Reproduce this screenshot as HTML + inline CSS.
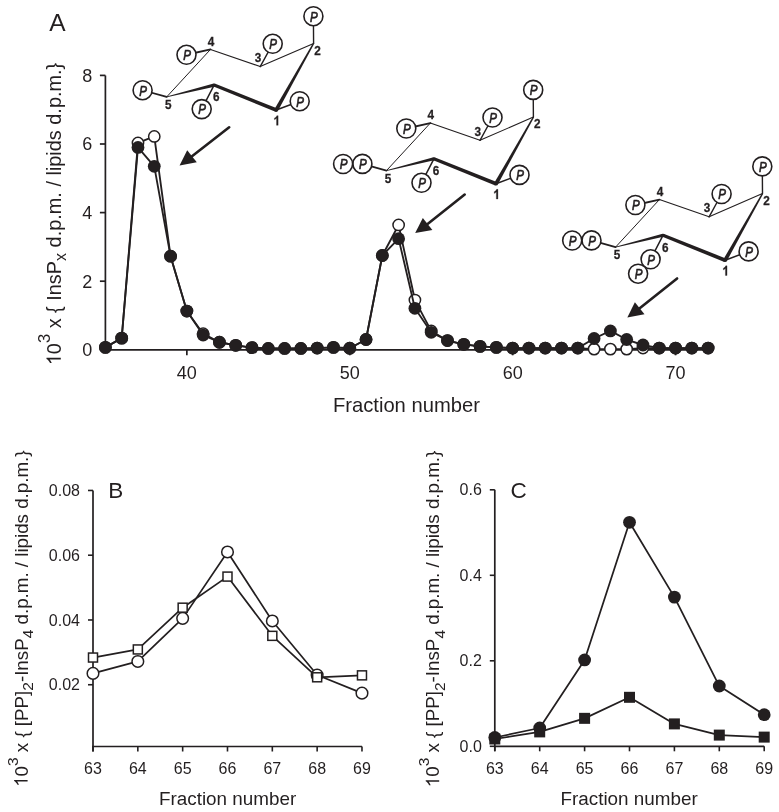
<!DOCTYPE html>
<html><head><meta charset="utf-8"><title>Figure</title>
<style>
html,body{margin:0;padding:0;background:#fff;}
svg{display:block;will-change:transform;}
text{font-family:"Liberation Sans",sans-serif;fill:#231f20;}
.tA{font-size:18px;}
.tB{font-size:16px;}
.tL{font-size:24.5px;}
.tL2{font-size:22.5px;}
.tT{font-size:20.2px;}
.tT2{font-size:18.85px;}
.tY{font-size:19.9px;}
.tY2{font-size:18.75px;}
.tP{font-size:14.5px;font-style:italic;stroke:#231f20;stroke-width:0.7px;}
.tN{font-size:13.5px;font-weight:bold;stroke:#231f20;stroke-width:0.3px;}
</style></head>
<body>
<svg width="779" height="812" viewBox="0 0 779 812">
<rect width="779" height="812" fill="#fff"/>
<g id="chartA">
<line x1="105.40" y1="75.40" x2="105.40" y2="350.65" stroke="#231f20" stroke-width="1.7"/>
<line x1="104.55" y1="349.80" x2="708.13" y2="349.80" stroke="#231f20" stroke-width="1.7"/>
<line x1="99.90" y1="349.80" x2="105.40" y2="349.80" stroke="#231f20" stroke-width="1.7"/>
<text x="92.20" y="356.20" class="tA" text-anchor="end">0</text>
<line x1="99.90" y1="281.20" x2="105.40" y2="281.20" stroke="#231f20" stroke-width="1.7"/>
<text x="92.20" y="287.60" class="tA" text-anchor="end">2</text>
<line x1="99.90" y1="212.60" x2="105.40" y2="212.60" stroke="#231f20" stroke-width="1.7"/>
<text x="92.20" y="219.00" class="tA" text-anchor="end">4</text>
<line x1="99.90" y1="144.00" x2="105.40" y2="144.00" stroke="#231f20" stroke-width="1.7"/>
<text x="92.20" y="150.40" class="tA" text-anchor="end">6</text>
<line x1="99.90" y1="75.40" x2="105.40" y2="75.40" stroke="#231f20" stroke-width="1.7"/>
<text x="92.20" y="81.80" class="tA" text-anchor="end">8</text>
<line x1="186.85" y1="349.80" x2="186.85" y2="355.30" stroke="#231f20" stroke-width="1.7"/>
<text x="186.85" y="379.00" class="tA" text-anchor="middle">40</text>
<line x1="349.75" y1="349.80" x2="349.75" y2="355.30" stroke="#231f20" stroke-width="1.7"/>
<text x="349.75" y="379.00" class="tA" text-anchor="middle">50</text>
<line x1="512.65" y1="349.80" x2="512.65" y2="355.30" stroke="#231f20" stroke-width="1.7"/>
<text x="512.65" y="379.00" class="tA" text-anchor="middle">60</text>
<line x1="675.55" y1="349.80" x2="675.55" y2="355.30" stroke="#231f20" stroke-width="1.7"/>
<text x="675.55" y="379.00" class="tA" text-anchor="middle">70</text>
<polyline points="105.40,347.40 121.69,338.14 137.98,142.97 154.27,136.45 170.56,256.16 186.85,311.04 203.14,333.68 219.43,342.25 235.72,345.34 252.01,347.60 268.30,348.43 284.59,348.43 300.88,348.43 317.17,348.09 333.46,347.40 349.75,348.26 366.04,339.51 382.33,255.48 398.62,224.95 414.91,300.06 431.20,330.94 447.49,340.54 463.78,344.31 480.07,346.37 496.36,347.40 512.65,348.09 528.94,348.09 545.23,348.09 561.52,348.09 577.81,348.09 594.10,349.11 610.39,349.11 626.68,349.11 642.97,348.09 659.26,348.09 675.55,348.09 691.84,348.09 708.13,348.09" fill="none" stroke="#231f20" stroke-width="1.85" stroke-linejoin="round"/>
<circle cx="105.40" cy="347.40" r="5.65" fill="#fff" stroke="#231f20" stroke-width="1.5"/>
<circle cx="121.69" cy="338.14" r="5.65" fill="#fff" stroke="#231f20" stroke-width="1.5"/>
<circle cx="137.98" cy="142.97" r="5.65" fill="#fff" stroke="#231f20" stroke-width="1.5"/>
<circle cx="154.27" cy="136.45" r="5.65" fill="#fff" stroke="#231f20" stroke-width="1.5"/>
<circle cx="170.56" cy="256.16" r="5.65" fill="#fff" stroke="#231f20" stroke-width="1.5"/>
<circle cx="186.85" cy="311.04" r="5.65" fill="#fff" stroke="#231f20" stroke-width="1.5"/>
<circle cx="203.14" cy="333.68" r="5.65" fill="#fff" stroke="#231f20" stroke-width="1.5"/>
<circle cx="219.43" cy="342.25" r="5.65" fill="#fff" stroke="#231f20" stroke-width="1.5"/>
<circle cx="235.72" cy="345.34" r="5.65" fill="#fff" stroke="#231f20" stroke-width="1.5"/>
<circle cx="252.01" cy="347.60" r="5.65" fill="#fff" stroke="#231f20" stroke-width="1.5"/>
<circle cx="268.30" cy="348.43" r="5.65" fill="#fff" stroke="#231f20" stroke-width="1.5"/>
<circle cx="284.59" cy="348.43" r="5.65" fill="#fff" stroke="#231f20" stroke-width="1.5"/>
<circle cx="300.88" cy="348.43" r="5.65" fill="#fff" stroke="#231f20" stroke-width="1.5"/>
<circle cx="317.17" cy="348.09" r="5.65" fill="#fff" stroke="#231f20" stroke-width="1.5"/>
<circle cx="333.46" cy="347.40" r="5.65" fill="#fff" stroke="#231f20" stroke-width="1.5"/>
<circle cx="349.75" cy="348.26" r="5.65" fill="#fff" stroke="#231f20" stroke-width="1.5"/>
<circle cx="366.04" cy="339.51" r="5.65" fill="#fff" stroke="#231f20" stroke-width="1.5"/>
<circle cx="382.33" cy="255.48" r="5.65" fill="#fff" stroke="#231f20" stroke-width="1.5"/>
<circle cx="398.62" cy="224.95" r="5.65" fill="#fff" stroke="#231f20" stroke-width="1.5"/>
<circle cx="414.91" cy="300.06" r="5.65" fill="#fff" stroke="#231f20" stroke-width="1.5"/>
<circle cx="431.20" cy="330.94" r="5.65" fill="#fff" stroke="#231f20" stroke-width="1.5"/>
<circle cx="447.49" cy="340.54" r="5.65" fill="#fff" stroke="#231f20" stroke-width="1.5"/>
<circle cx="463.78" cy="344.31" r="5.65" fill="#fff" stroke="#231f20" stroke-width="1.5"/>
<circle cx="480.07" cy="346.37" r="5.65" fill="#fff" stroke="#231f20" stroke-width="1.5"/>
<circle cx="496.36" cy="347.40" r="5.65" fill="#fff" stroke="#231f20" stroke-width="1.5"/>
<circle cx="512.65" cy="348.09" r="5.65" fill="#fff" stroke="#231f20" stroke-width="1.5"/>
<circle cx="528.94" cy="348.09" r="5.65" fill="#fff" stroke="#231f20" stroke-width="1.5"/>
<circle cx="545.23" cy="348.09" r="5.65" fill="#fff" stroke="#231f20" stroke-width="1.5"/>
<circle cx="561.52" cy="348.09" r="5.65" fill="#fff" stroke="#231f20" stroke-width="1.5"/>
<circle cx="577.81" cy="348.09" r="5.65" fill="#fff" stroke="#231f20" stroke-width="1.5"/>
<circle cx="594.10" cy="349.11" r="5.65" fill="#fff" stroke="#231f20" stroke-width="1.5"/>
<circle cx="610.39" cy="349.11" r="5.65" fill="#fff" stroke="#231f20" stroke-width="1.5"/>
<circle cx="626.68" cy="349.11" r="5.65" fill="#fff" stroke="#231f20" stroke-width="1.5"/>
<circle cx="642.97" cy="348.09" r="5.65" fill="#fff" stroke="#231f20" stroke-width="1.5"/>
<circle cx="659.26" cy="348.09" r="5.65" fill="#fff" stroke="#231f20" stroke-width="1.5"/>
<circle cx="675.55" cy="348.09" r="5.65" fill="#fff" stroke="#231f20" stroke-width="1.5"/>
<circle cx="691.84" cy="348.09" r="5.65" fill="#fff" stroke="#231f20" stroke-width="1.5"/>
<circle cx="708.13" cy="348.09" r="5.65" fill="#fff" stroke="#231f20" stroke-width="1.5"/>
<polyline points="105.40,347.40 121.69,338.14 137.98,147.43 154.27,166.30 170.56,256.16 186.85,311.04 203.14,335.05 219.43,342.25 235.72,345.34 252.01,347.60 268.30,348.43 284.59,348.43 300.88,348.43 317.17,348.09 333.46,347.40 349.75,348.26 366.04,339.51 382.33,255.48 398.62,238.67 414.91,308.30 431.20,332.31 447.49,340.54 463.78,344.31 480.07,346.37 496.36,347.40 512.65,348.09 528.94,348.09 545.23,348.09 561.52,348.09 577.81,348.09 594.10,338.48 610.39,330.94 626.68,339.51 642.97,345.00 659.26,348.09 675.55,348.09 691.84,348.09 708.13,348.09" fill="none" stroke="#231f20" stroke-width="1.85" stroke-linejoin="round"/>
<circle cx="105.40" cy="347.40" r="6.40" fill="#231f20"/>
<circle cx="121.69" cy="338.14" r="6.40" fill="#231f20"/>
<circle cx="137.98" cy="147.43" r="6.40" fill="#231f20"/>
<circle cx="154.27" cy="166.30" r="6.40" fill="#231f20"/>
<circle cx="170.56" cy="256.16" r="6.40" fill="#231f20"/>
<circle cx="186.85" cy="311.04" r="6.40" fill="#231f20"/>
<circle cx="203.14" cy="335.05" r="6.40" fill="#231f20"/>
<circle cx="219.43" cy="342.25" r="6.40" fill="#231f20"/>
<circle cx="235.72" cy="345.34" r="6.40" fill="#231f20"/>
<circle cx="252.01" cy="347.60" r="6.40" fill="#231f20"/>
<circle cx="268.30" cy="348.43" r="6.40" fill="#231f20"/>
<circle cx="284.59" cy="348.43" r="6.40" fill="#231f20"/>
<circle cx="300.88" cy="348.43" r="6.40" fill="#231f20"/>
<circle cx="317.17" cy="348.09" r="6.40" fill="#231f20"/>
<circle cx="333.46" cy="347.40" r="6.40" fill="#231f20"/>
<circle cx="349.75" cy="348.26" r="6.40" fill="#231f20"/>
<circle cx="366.04" cy="339.51" r="6.40" fill="#231f20"/>
<circle cx="382.33" cy="255.48" r="6.40" fill="#231f20"/>
<circle cx="398.62" cy="238.67" r="6.40" fill="#231f20"/>
<circle cx="414.91" cy="308.30" r="6.40" fill="#231f20"/>
<circle cx="431.20" cy="332.31" r="6.40" fill="#231f20"/>
<circle cx="447.49" cy="340.54" r="6.40" fill="#231f20"/>
<circle cx="463.78" cy="344.31" r="6.40" fill="#231f20"/>
<circle cx="480.07" cy="346.37" r="6.40" fill="#231f20"/>
<circle cx="496.36" cy="347.40" r="6.40" fill="#231f20"/>
<circle cx="512.65" cy="348.09" r="6.40" fill="#231f20"/>
<circle cx="528.94" cy="348.09" r="6.40" fill="#231f20"/>
<circle cx="545.23" cy="348.09" r="6.40" fill="#231f20"/>
<circle cx="561.52" cy="348.09" r="6.40" fill="#231f20"/>
<circle cx="577.81" cy="348.09" r="6.40" fill="#231f20"/>
<circle cx="594.10" cy="338.48" r="6.40" fill="#231f20"/>
<circle cx="610.39" cy="330.94" r="6.40" fill="#231f20"/>
<circle cx="626.68" cy="339.51" r="6.40" fill="#231f20"/>
<circle cx="642.97" cy="345.00" r="6.40" fill="#231f20"/>
<circle cx="659.26" cy="348.09" r="6.40" fill="#231f20"/>
<circle cx="675.55" cy="348.09" r="6.40" fill="#231f20"/>
<circle cx="691.84" cy="348.09" r="6.40" fill="#231f20"/>
<circle cx="708.13" cy="348.09" r="6.40" fill="#231f20"/>
</g>
<g transform="translate(0,0)">
<line x1="166.70" y1="96.90" x2="210.50" y2="49.40" stroke="#231f20" stroke-width="1.0" stroke-linecap="round"/>
<line x1="210.50" y1="49.40" x2="260.20" y2="66.60" stroke="#231f20" stroke-width="1.1" stroke-linecap="round"/>
<line x1="260.20" y1="66.60" x2="313.60" y2="43.40" stroke="#231f20" stroke-width="1.1" stroke-linecap="round"/>
<polygon points="166.80,97.29 214.49,86.65 213.71,83.55 166.60,96.51" fill="#231f20"/>
<polygon points="213.50,86.59 275.49,111.76 276.91,108.24 214.70,83.61" fill="#231f20"/>
<polygon points="277.86,110.93 314.21,43.74 312.99,43.06 274.54,109.07" fill="#231f20"/>
<circle cx="214.1" cy="85.1" r="1.6" fill="#231f20"/>
<circle cx="276.2" cy="110.0" r="1.9" fill="#231f20"/>
<line x1="276.20" y1="110.00" x2="299.70" y2="101.20" stroke="#231f20" stroke-width="1.5" stroke-linecap="round"/>
<line x1="313.60" y1="43.40" x2="313.40" y2="16.20" stroke="#231f20" stroke-width="1.4" stroke-linecap="round"/>
<line x1="260.20" y1="66.60" x2="272.70" y2="43.80" stroke="#231f20" stroke-width="1.4" stroke-linecap="round"/>
<line x1="210.50" y1="49.40" x2="186.50" y2="54.80" stroke="#231f20" stroke-width="1.9" stroke-linecap="round"/>
<line x1="166.70" y1="96.90" x2="142.60" y2="90.20" stroke="#231f20" stroke-width="1.7" stroke-linecap="round"/>
<line x1="214.10" y1="85.10" x2="201.70" y2="109.10" stroke="#231f20" stroke-width="1.5" stroke-linecap="round"/>
<circle cx="299.70" cy="101.20" r="9.5" fill="#fff" stroke="#231f20" stroke-width="1.6"/><text transform="translate(300.20,106.50) scale(0.8,1)" class="tP" text-anchor="middle">P</text>
<circle cx="313.40" cy="16.20" r="9.5" fill="#fff" stroke="#231f20" stroke-width="1.6"/><text transform="translate(313.90,21.50) scale(0.8,1)" class="tP" text-anchor="middle">P</text>
<circle cx="272.70" cy="43.80" r="9.5" fill="#fff" stroke="#231f20" stroke-width="1.6"/><text transform="translate(273.20,49.10) scale(0.8,1)" class="tP" text-anchor="middle">P</text>
<circle cx="186.50" cy="54.80" r="9.5" fill="#fff" stroke="#231f20" stroke-width="1.6"/><text transform="translate(187.00,60.10) scale(0.8,1)" class="tP" text-anchor="middle">P</text>
<circle cx="142.60" cy="90.20" r="9.5" fill="#fff" stroke="#231f20" stroke-width="1.6"/><text transform="translate(143.10,95.50) scale(0.8,1)" class="tP" text-anchor="middle">P</text>
<circle cx="201.70" cy="109.10" r="9.5" fill="#fff" stroke="#231f20" stroke-width="1.6"/><text transform="translate(202.20,114.40) scale(0.8,1)" class="tP" text-anchor="middle">P</text>
<g transform="translate(273.23,125.30) scale(0.87,1)"><path d="M856 0H575V1057Q421 913 213 844V1098Q323 1134 451 1233T627 1466H856Z" transform="scale(0.00659,-0.00659)" fill="#231f20" stroke="#231f20" stroke-width="45.5"/></g>
<text transform="translate(317.50,54.50) scale(0.87,1)" class="tN" text-anchor="middle">2</text>
<text transform="translate(258.00,61.80) scale(0.87,1)" class="tN" text-anchor="middle">3</text>
<text transform="translate(211.00,45.70) scale(0.87,1)" class="tN" text-anchor="middle">4</text>
<text transform="translate(168.20,108.90) scale(0.87,1)" class="tN" text-anchor="middle">5</text>
<text transform="translate(216.30,101.30) scale(0.87,1)" class="tN" text-anchor="middle">6</text>
</g>
<g transform="translate(219.8,73.7)">
<line x1="166.70" y1="96.90" x2="210.50" y2="49.40" stroke="#231f20" stroke-width="1.0" stroke-linecap="round"/>
<line x1="210.50" y1="49.40" x2="260.20" y2="66.60" stroke="#231f20" stroke-width="1.1" stroke-linecap="round"/>
<line x1="260.20" y1="66.60" x2="313.60" y2="43.40" stroke="#231f20" stroke-width="1.1" stroke-linecap="round"/>
<polygon points="166.80,97.29 214.49,86.65 213.71,83.55 166.60,96.51" fill="#231f20"/>
<polygon points="213.50,86.59 275.49,111.76 276.91,108.24 214.70,83.61" fill="#231f20"/>
<polygon points="277.86,110.93 314.21,43.74 312.99,43.06 274.54,109.07" fill="#231f20"/>
<circle cx="214.1" cy="85.1" r="1.6" fill="#231f20"/>
<circle cx="276.2" cy="110.0" r="1.9" fill="#231f20"/>
<line x1="276.20" y1="110.00" x2="299.70" y2="101.20" stroke="#231f20" stroke-width="1.5" stroke-linecap="round"/>
<line x1="313.60" y1="43.40" x2="313.40" y2="16.20" stroke="#231f20" stroke-width="1.4" stroke-linecap="round"/>
<line x1="260.20" y1="66.60" x2="272.70" y2="43.80" stroke="#231f20" stroke-width="1.4" stroke-linecap="round"/>
<line x1="210.50" y1="49.40" x2="186.50" y2="54.80" stroke="#231f20" stroke-width="1.9" stroke-linecap="round"/>
<line x1="166.70" y1="96.90" x2="142.60" y2="90.20" stroke="#231f20" stroke-width="1.7" stroke-linecap="round"/>
<line x1="214.10" y1="85.10" x2="201.70" y2="109.10" stroke="#231f20" stroke-width="1.5" stroke-linecap="round"/>
<circle cx="299.70" cy="101.20" r="9.5" fill="#fff" stroke="#231f20" stroke-width="1.6"/><text transform="translate(300.20,106.50) scale(0.8,1)" class="tP" text-anchor="middle">P</text>
<circle cx="313.40" cy="16.20" r="9.5" fill="#fff" stroke="#231f20" stroke-width="1.6"/><text transform="translate(313.90,21.50) scale(0.8,1)" class="tP" text-anchor="middle">P</text>
<circle cx="272.70" cy="43.80" r="9.5" fill="#fff" stroke="#231f20" stroke-width="1.6"/><text transform="translate(273.20,49.10) scale(0.8,1)" class="tP" text-anchor="middle">P</text>
<circle cx="186.50" cy="54.80" r="9.5" fill="#fff" stroke="#231f20" stroke-width="1.6"/><text transform="translate(187.00,60.10) scale(0.8,1)" class="tP" text-anchor="middle">P</text>
<circle cx="142.60" cy="90.20" r="9.5" fill="#fff" stroke="#231f20" stroke-width="1.6"/><text transform="translate(143.10,95.50) scale(0.8,1)" class="tP" text-anchor="middle">P</text>
<circle cx="201.70" cy="109.10" r="9.5" fill="#fff" stroke="#231f20" stroke-width="1.6"/><text transform="translate(202.20,114.40) scale(0.8,1)" class="tP" text-anchor="middle">P</text>
<circle cx="123.30" cy="90.30" r="9.5" fill="#fff" stroke="#231f20" stroke-width="1.6"/><text transform="translate(123.80,95.60) scale(0.8,1)" class="tP" text-anchor="middle">P</text>
<g transform="translate(273.23,125.30) scale(0.87,1)"><path d="M856 0H575V1057Q421 913 213 844V1098Q323 1134 451 1233T627 1466H856Z" transform="scale(0.00659,-0.00659)" fill="#231f20" stroke="#231f20" stroke-width="45.5"/></g>
<text transform="translate(317.50,54.50) scale(0.87,1)" class="tN" text-anchor="middle">2</text>
<text transform="translate(258.00,61.80) scale(0.87,1)" class="tN" text-anchor="middle">3</text>
<text transform="translate(211.00,45.70) scale(0.87,1)" class="tN" text-anchor="middle">4</text>
<text transform="translate(168.20,108.90) scale(0.87,1)" class="tN" text-anchor="middle">5</text>
<text transform="translate(216.30,101.30) scale(0.87,1)" class="tN" text-anchor="middle">6</text>
</g>
<g transform="translate(448.9,150.2)">
<line x1="166.70" y1="96.90" x2="210.50" y2="49.40" stroke="#231f20" stroke-width="1.0" stroke-linecap="round"/>
<line x1="210.50" y1="49.40" x2="260.20" y2="66.60" stroke="#231f20" stroke-width="1.1" stroke-linecap="round"/>
<line x1="260.20" y1="66.60" x2="313.60" y2="43.40" stroke="#231f20" stroke-width="1.1" stroke-linecap="round"/>
<polygon points="166.80,97.29 214.49,86.65 213.71,83.55 166.60,96.51" fill="#231f20"/>
<polygon points="213.50,86.59 275.49,111.76 276.91,108.24 214.70,83.61" fill="#231f20"/>
<polygon points="277.86,110.93 314.21,43.74 312.99,43.06 274.54,109.07" fill="#231f20"/>
<circle cx="214.1" cy="85.1" r="1.6" fill="#231f20"/>
<circle cx="276.2" cy="110.0" r="1.9" fill="#231f20"/>
<line x1="276.20" y1="110.00" x2="299.70" y2="101.20" stroke="#231f20" stroke-width="1.5" stroke-linecap="round"/>
<line x1="313.60" y1="43.40" x2="313.40" y2="16.20" stroke="#231f20" stroke-width="1.4" stroke-linecap="round"/>
<line x1="260.20" y1="66.60" x2="272.70" y2="43.80" stroke="#231f20" stroke-width="1.4" stroke-linecap="round"/>
<line x1="210.50" y1="49.40" x2="186.50" y2="54.80" stroke="#231f20" stroke-width="1.9" stroke-linecap="round"/>
<line x1="166.70" y1="96.90" x2="142.60" y2="90.20" stroke="#231f20" stroke-width="1.7" stroke-linecap="round"/>
<line x1="214.10" y1="85.10" x2="201.70" y2="109.10" stroke="#231f20" stroke-width="1.5" stroke-linecap="round"/>
<circle cx="299.70" cy="101.20" r="9.5" fill="#fff" stroke="#231f20" stroke-width="1.6"/><text transform="translate(300.20,106.50) scale(0.8,1)" class="tP" text-anchor="middle">P</text>
<circle cx="313.40" cy="16.20" r="9.5" fill="#fff" stroke="#231f20" stroke-width="1.6"/><text transform="translate(313.90,21.50) scale(0.8,1)" class="tP" text-anchor="middle">P</text>
<circle cx="272.70" cy="43.80" r="9.5" fill="#fff" stroke="#231f20" stroke-width="1.6"/><text transform="translate(273.20,49.10) scale(0.8,1)" class="tP" text-anchor="middle">P</text>
<circle cx="186.50" cy="54.80" r="9.5" fill="#fff" stroke="#231f20" stroke-width="1.6"/><text transform="translate(187.00,60.10) scale(0.8,1)" class="tP" text-anchor="middle">P</text>
<circle cx="142.60" cy="90.20" r="9.5" fill="#fff" stroke="#231f20" stroke-width="1.6"/><text transform="translate(143.10,95.50) scale(0.8,1)" class="tP" text-anchor="middle">P</text>
<circle cx="201.70" cy="109.10" r="9.5" fill="#fff" stroke="#231f20" stroke-width="1.6"/><text transform="translate(202.20,114.40) scale(0.8,1)" class="tP" text-anchor="middle">P</text>
<circle cx="123.30" cy="90.30" r="9.5" fill="#fff" stroke="#231f20" stroke-width="1.6"/><text transform="translate(123.80,95.60) scale(0.8,1)" class="tP" text-anchor="middle">P</text>
<circle cx="189.20" cy="123.50" r="9.5" fill="#fff" stroke="#231f20" stroke-width="1.6"/><text transform="translate(189.70,128.80) scale(0.8,1)" class="tP" text-anchor="middle">P</text>
<g transform="translate(273.23,125.30) scale(0.87,1)"><path d="M856 0H575V1057Q421 913 213 844V1098Q323 1134 451 1233T627 1466H856Z" transform="scale(0.00659,-0.00659)" fill="#231f20" stroke="#231f20" stroke-width="45.5"/></g>
<text transform="translate(317.50,54.50) scale(0.87,1)" class="tN" text-anchor="middle">2</text>
<text transform="translate(258.00,61.80) scale(0.87,1)" class="tN" text-anchor="middle">3</text>
<text transform="translate(211.00,45.70) scale(0.87,1)" class="tN" text-anchor="middle">4</text>
<text transform="translate(168.20,108.90) scale(0.87,1)" class="tN" text-anchor="middle">5</text>
<text transform="translate(216.30,101.30) scale(0.87,1)" class="tN" text-anchor="middle">6</text>
</g>
<line x1="229.20" y1="127.30" x2="192.00" y2="156.30" stroke="#231f20" stroke-width="2.6" stroke-linecap="round"/><polygon points="179.60,165.50 187.20,150.30 196.80,162.30" fill="#231f20"/>
<line x1="464.70" y1="194.60" x2="427.60" y2="223.90" stroke="#231f20" stroke-width="2.6" stroke-linecap="round"/><polygon points="415.20,233.10 422.80,217.90 432.40,229.90" fill="#231f20"/>
<line x1="677.10" y1="278.50" x2="639.70" y2="308.30" stroke="#231f20" stroke-width="2.6" stroke-linecap="round"/><polygon points="627.30,317.50 634.90,302.30 644.50,314.30" fill="#231f20"/>
<g id="chartB">
<line x1="93.0" y1="490.46" x2="93.0" y2="751.50" stroke="#231f20" stroke-width="1.7"/>
<line x1="92.15" y1="746.5" x2="361.98" y2="746.5" stroke="#231f20" stroke-width="1.7"/>
<line x1="88.00" y1="684.74" x2="93.0" y2="684.74" stroke="#231f20" stroke-width="1.6"/>
<text x="80.00" y="690.34" class="tB" text-anchor="end">0.02</text>
<line x1="88.00" y1="619.98" x2="93.0" y2="619.98" stroke="#231f20" stroke-width="1.6"/>
<text x="80.00" y="625.58" class="tB" text-anchor="end">0.04</text>
<line x1="88.00" y1="555.22" x2="93.0" y2="555.22" stroke="#231f20" stroke-width="1.6"/>
<text x="80.00" y="560.82" class="tB" text-anchor="end">0.06</text>
<line x1="88.00" y1="490.46" x2="93.0" y2="490.46" stroke="#231f20" stroke-width="1.6"/>
<text x="80.00" y="496.06" class="tB" text-anchor="end">0.08</text>
<line x1="93.00" y1="746.5" x2="93.00" y2="751.50" stroke="#231f20" stroke-width="1.6"/>
<text x="93.00" y="774.00" class="tB" text-anchor="middle">63</text>
<line x1="137.83" y1="746.5" x2="137.83" y2="751.50" stroke="#231f20" stroke-width="1.6"/>
<text x="137.83" y="774.00" class="tB" text-anchor="middle">64</text>
<line x1="182.66" y1="746.5" x2="182.66" y2="751.50" stroke="#231f20" stroke-width="1.6"/>
<text x="182.66" y="774.00" class="tB" text-anchor="middle">65</text>
<line x1="227.49" y1="746.5" x2="227.49" y2="751.50" stroke="#231f20" stroke-width="1.6"/>
<text x="227.49" y="774.00" class="tB" text-anchor="middle">66</text>
<line x1="272.32" y1="746.5" x2="272.32" y2="751.50" stroke="#231f20" stroke-width="1.6"/>
<text x="272.32" y="774.00" class="tB" text-anchor="middle">67</text>
<line x1="317.15" y1="746.5" x2="317.15" y2="751.50" stroke="#231f20" stroke-width="1.6"/>
<text x="317.15" y="774.00" class="tB" text-anchor="middle">68</text>
<line x1="361.98" y1="746.5" x2="361.98" y2="751.50" stroke="#231f20" stroke-width="1.6"/>
<text x="361.98" y="774.00" class="tB" text-anchor="middle">69</text>
<polyline points="93.00,673.41 137.83,661.43 182.66,618.36 227.49,551.98 272.32,620.95 317.15,675.03 361.98,693.16" fill="none" stroke="#231f20" stroke-width="1.7" stroke-linejoin="round"/>
<circle cx="93.00" cy="673.41" r="5.8" fill="#fff" stroke="#231f20" stroke-width="1.5"/>
<circle cx="137.83" cy="661.43" r="5.8" fill="#fff" stroke="#231f20" stroke-width="1.5"/>
<circle cx="182.66" cy="618.36" r="5.8" fill="#fff" stroke="#231f20" stroke-width="1.5"/>
<circle cx="227.49" cy="551.98" r="5.8" fill="#fff" stroke="#231f20" stroke-width="1.5"/>
<circle cx="272.32" cy="620.95" r="5.8" fill="#fff" stroke="#231f20" stroke-width="1.5"/>
<circle cx="317.15" cy="675.03" r="5.8" fill="#fff" stroke="#231f20" stroke-width="1.5"/>
<circle cx="361.98" cy="693.16" r="5.8" fill="#fff" stroke="#231f20" stroke-width="1.5"/>
<polyline points="93.00,657.54 137.83,649.45 182.66,607.68 227.49,576.59 272.32,635.85 317.15,677.29 361.98,675.35" fill="none" stroke="#231f20" stroke-width="1.7" stroke-linejoin="round"/>
<rect x="88.50" y="653.04" width="9.0" height="9.0" fill="#fff" stroke="#231f20" stroke-width="1.5"/>
<rect x="133.33" y="644.95" width="9.0" height="9.0" fill="#fff" stroke="#231f20" stroke-width="1.5"/>
<rect x="178.16" y="603.18" width="9.0" height="9.0" fill="#fff" stroke="#231f20" stroke-width="1.5"/>
<rect x="222.99" y="572.09" width="9.0" height="9.0" fill="#fff" stroke="#231f20" stroke-width="1.5"/>
<rect x="267.82" y="631.35" width="9.0" height="9.0" fill="#fff" stroke="#231f20" stroke-width="1.5"/>
<rect x="312.65" y="672.79" width="9.0" height="9.0" fill="#fff" stroke="#231f20" stroke-width="1.5"/>
<rect x="357.48" y="670.85" width="9.0" height="9.0" fill="#fff" stroke="#231f20" stroke-width="1.5"/>
</g>
<g id="chartC">
<line x1="494.8" y1="489.80" x2="494.8" y2="751.30" stroke="#231f20" stroke-width="1.7"/>
<line x1="493.95" y1="746.3" x2="764.20" y2="746.3" stroke="#231f20" stroke-width="1.7"/>
<line x1="489.80" y1="746.30" x2="494.8" y2="746.30" stroke="#231f20" stroke-width="1.6"/>
<text x="481.80" y="751.90" class="tB" text-anchor="end">0.0</text>
<line x1="489.80" y1="660.80" x2="494.8" y2="660.80" stroke="#231f20" stroke-width="1.6"/>
<text x="481.80" y="666.40" class="tB" text-anchor="end">0.2</text>
<line x1="489.80" y1="575.30" x2="494.8" y2="575.30" stroke="#231f20" stroke-width="1.6"/>
<text x="481.80" y="580.90" class="tB" text-anchor="end">0.4</text>
<line x1="489.80" y1="489.80" x2="494.8" y2="489.80" stroke="#231f20" stroke-width="1.6"/>
<text x="481.80" y="495.40" class="tB" text-anchor="end">0.6</text>
<line x1="494.80" y1="746.3" x2="494.80" y2="751.30" stroke="#231f20" stroke-width="1.6"/>
<text x="494.80" y="773.80" class="tB" text-anchor="middle">63</text>
<line x1="539.70" y1="746.3" x2="539.70" y2="751.30" stroke="#231f20" stroke-width="1.6"/>
<text x="539.70" y="773.80" class="tB" text-anchor="middle">64</text>
<line x1="584.60" y1="746.3" x2="584.60" y2="751.30" stroke="#231f20" stroke-width="1.6"/>
<text x="584.60" y="773.80" class="tB" text-anchor="middle">65</text>
<line x1="629.50" y1="746.3" x2="629.50" y2="751.30" stroke="#231f20" stroke-width="1.6"/>
<text x="629.50" y="773.80" class="tB" text-anchor="middle">66</text>
<line x1="674.40" y1="746.3" x2="674.40" y2="751.30" stroke="#231f20" stroke-width="1.6"/>
<text x="674.40" y="773.80" class="tB" text-anchor="middle">67</text>
<line x1="719.30" y1="746.3" x2="719.30" y2="751.30" stroke="#231f20" stroke-width="1.6"/>
<text x="719.30" y="773.80" class="tB" text-anchor="middle">68</text>
<line x1="764.20" y1="746.3" x2="764.20" y2="751.30" stroke="#231f20" stroke-width="1.6"/>
<text x="764.20" y="773.80" class="tB" text-anchor="middle">69</text>
<polyline points="494.80,737.49 539.70,728.00 584.60,659.94 629.50,522.29 674.40,597.10 719.30,686.02 764.20,714.66" fill="none" stroke="#231f20" stroke-width="1.75" stroke-linejoin="round"/>
<polyline points="494.80,738.99 539.70,731.89 584.60,718.34 629.50,697.31 674.40,723.90 719.30,735.10 764.20,737.11" fill="none" stroke="#231f20" stroke-width="1.75" stroke-linejoin="round"/>
<circle cx="494.80" cy="737.49" r="6.4" fill="#231f20"/>
<circle cx="539.70" cy="728.00" r="6.4" fill="#231f20"/>
<circle cx="584.60" cy="659.94" r="6.4" fill="#231f20"/>
<circle cx="629.50" cy="522.29" r="6.4" fill="#231f20"/>
<circle cx="674.40" cy="597.10" r="6.4" fill="#231f20"/>
<circle cx="719.30" cy="686.02" r="6.4" fill="#231f20"/>
<circle cx="764.20" cy="714.66" r="6.4" fill="#231f20"/>
<rect x="489.30" y="733.49" width="11" height="11" fill="#231f20"/>
<rect x="534.20" y="726.39" width="11" height="11" fill="#231f20"/>
<rect x="579.10" y="712.84" width="11" height="11" fill="#231f20"/>
<rect x="624.00" y="691.81" width="11" height="11" fill="#231f20"/>
<rect x="668.90" y="718.40" width="11" height="11" fill="#231f20"/>
<rect x="713.80" y="729.60" width="11" height="11" fill="#231f20"/>
<rect x="758.70" y="731.61" width="11" height="11" fill="#231f20"/>
</g>
<text x="49.2" y="30.5" class="tL">A</text>
<text x="108.2" y="497.5" class="tL2">B</text>
<text x="510.6" y="497.6" class="tL2">C</text>
<text x="406.4" y="412.4" class="tT" text-anchor="middle">Fraction number</text>
<text x="227.6" y="805.1" class="tT2" text-anchor="middle">Fraction number</text>
<text x="629.1" y="804.8" class="tT2" text-anchor="middle">Fraction number</text>
<g transform="translate(60.8,365.2) rotate(-90)"><path d="M763 0H583V1147Q518 1085 412 1023T223 930V1104Q374 1175 487 1276T647 1472H763Z" transform="scale(0.00972,-0.00972)" fill="#231f20"/><text x="11.067" y="0" class="tY"><tspan>0</tspan><tspan dy="-11" font-size="16.5">3</tspan><tspan dy="11"> x { InsP</tspan><tspan dy="5.2" font-size="16">x</tspan><tspan dy="-5.2"> d.p.m. / lipids d.p.m.}</tspan></text></g>
<g transform="translate(27.6,786.9) rotate(-90)"><path d="M763 0H583V1147Q518 1085 412 1023T223 930V1104Q374 1175 487 1276T647 1472H763Z" transform="scale(0.00916,-0.00916)" fill="#231f20"/><text x="10.428" y="0" class="tY2"><tspan>0</tspan><tspan dy="-10" font-size="15.5">3</tspan><tspan dy="10"> x { [PP]</tspan><tspan dy="5.6" font-size="15.5">2</tspan><tspan dy="-5.6">-InsP</tspan><tspan dy="5.6" font-size="15.5">4</tspan><tspan dy="-5.6"> d.p.m. / lipids d.p.m.}</tspan></text></g>
<g transform="translate(439.2,787.2) rotate(-90)"><path d="M763 0H583V1147Q518 1085 412 1023T223 930V1104Q374 1175 487 1276T647 1472H763Z" transform="scale(0.00916,-0.00916)" fill="#231f20"/><text x="10.428" y="0" class="tY2"><tspan>0</tspan><tspan dy="-10" font-size="15.5">3</tspan><tspan dy="10"> x { [PP]</tspan><tspan dy="5.6" font-size="15.5">2</tspan><tspan dy="-5.6">-InsP</tspan><tspan dy="5.6" font-size="15.5">4</tspan><tspan dy="-5.6"> d.p.m. / lipids d.p.m.}</tspan></text></g>
</svg>
</body></html>
